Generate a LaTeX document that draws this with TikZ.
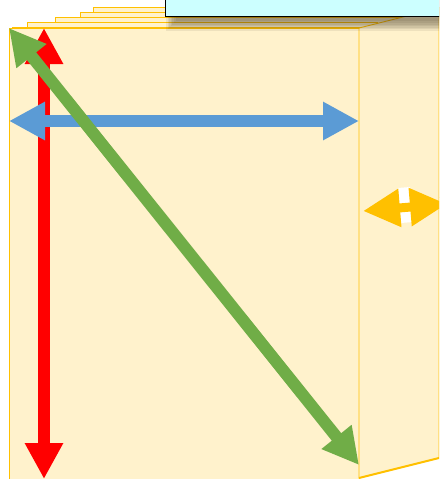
\documentclass[tikz,border=0pt]{standalone}
\usetikzlibrary{arrows.meta}
\definecolor{mapfill}{HTML}{FFF2CC}
\definecolor{mapedge}{HTML}{FFC000}
\definecolor{arrred}{HTML}{FF0000}
\definecolor{arrblue}{HTML}{5B9BD5}
\definecolor{arrgreen}{HTML}{70AD47}
\definecolor{arryellow}{HTML}{FFC000}
\definecolor{boxcyan}{HTML}{CCFFFF}
\definecolor{boxshade}{HTML}{3A3020}

\begin{document}
\begin{tikzpicture}[x=1pt, y=-1pt,
    layer/.style={fill=mapfill, draw=mapedge, line width=0.9pt},
    dblarrow/.style={line width=12pt,
                     {Triangle[length=36pt,width=36pt]}-{Triangle[length=36pt,width=36pt]}},
    smallarrow/.style={line width=9pt,
                     {Triangle[length=37pt,width=36pt]}-{Triangle[length=37pt,width=36pt]}}]
  \useasboundingbox (0,0) rectangle (439,479);
  \clip (0,0) rectangle (439,479);
  % stacked maps behind the front one
  \foreach \lx/\ly in {93/7, 80/12, 55/17, 27/22, 12/27}
    \draw[layer] (\lx,\ly) rectangle ++(350,190);
  % front map and its side
  \draw[layer] (9,28) rectangle (359,490);
  \draw[layer] (359,28) -- (439,8) -- (439,458) -- (359,478) -- cycle;
  \draw[mapedge, line width=2pt] (359,478) -- (439,458);
  % soft shadow under the label box
  \foreach \s in {0,...,6}
    \fill[boxshade, opacity=0.085] (166+1.6*\s,0) rectangle (470,31-1.6*\s);
  % label box on top
  \draw[fill=boxcyan, draw=black, line width=1pt] (165,-5) rectangle (460,16);
  % corners for the arrows
  \coordinate (redtop) at (44,28);
  \coordinate (redbot) at (44,479);
  \coordinate (blueleft) at (9,121);
  \coordinate (blueright) at (359,121);
  \coordinate (greentop) at (9,28);
  \coordinate (greenbot) at (359,465);
  \coordinate (depthleft) at (363,211);
  \coordinate (depthright) at (447,204);
  \draw[dblarrow, arrred] (redtop) -- (redbot);
  \draw[dblarrow, arrblue] (blueleft) -- (blueright);
  \draw[dblarrow, arrgreen] (greentop) -- (greenbot);
  % depth arrow
  \fill[white] (398,188) -- (410,187) -- (413,222) -- (401,223) -- cycle;
  \draw[smallarrow, arryellow] (depthleft) -- (depthright);
\end{tikzpicture}
\end{document}
